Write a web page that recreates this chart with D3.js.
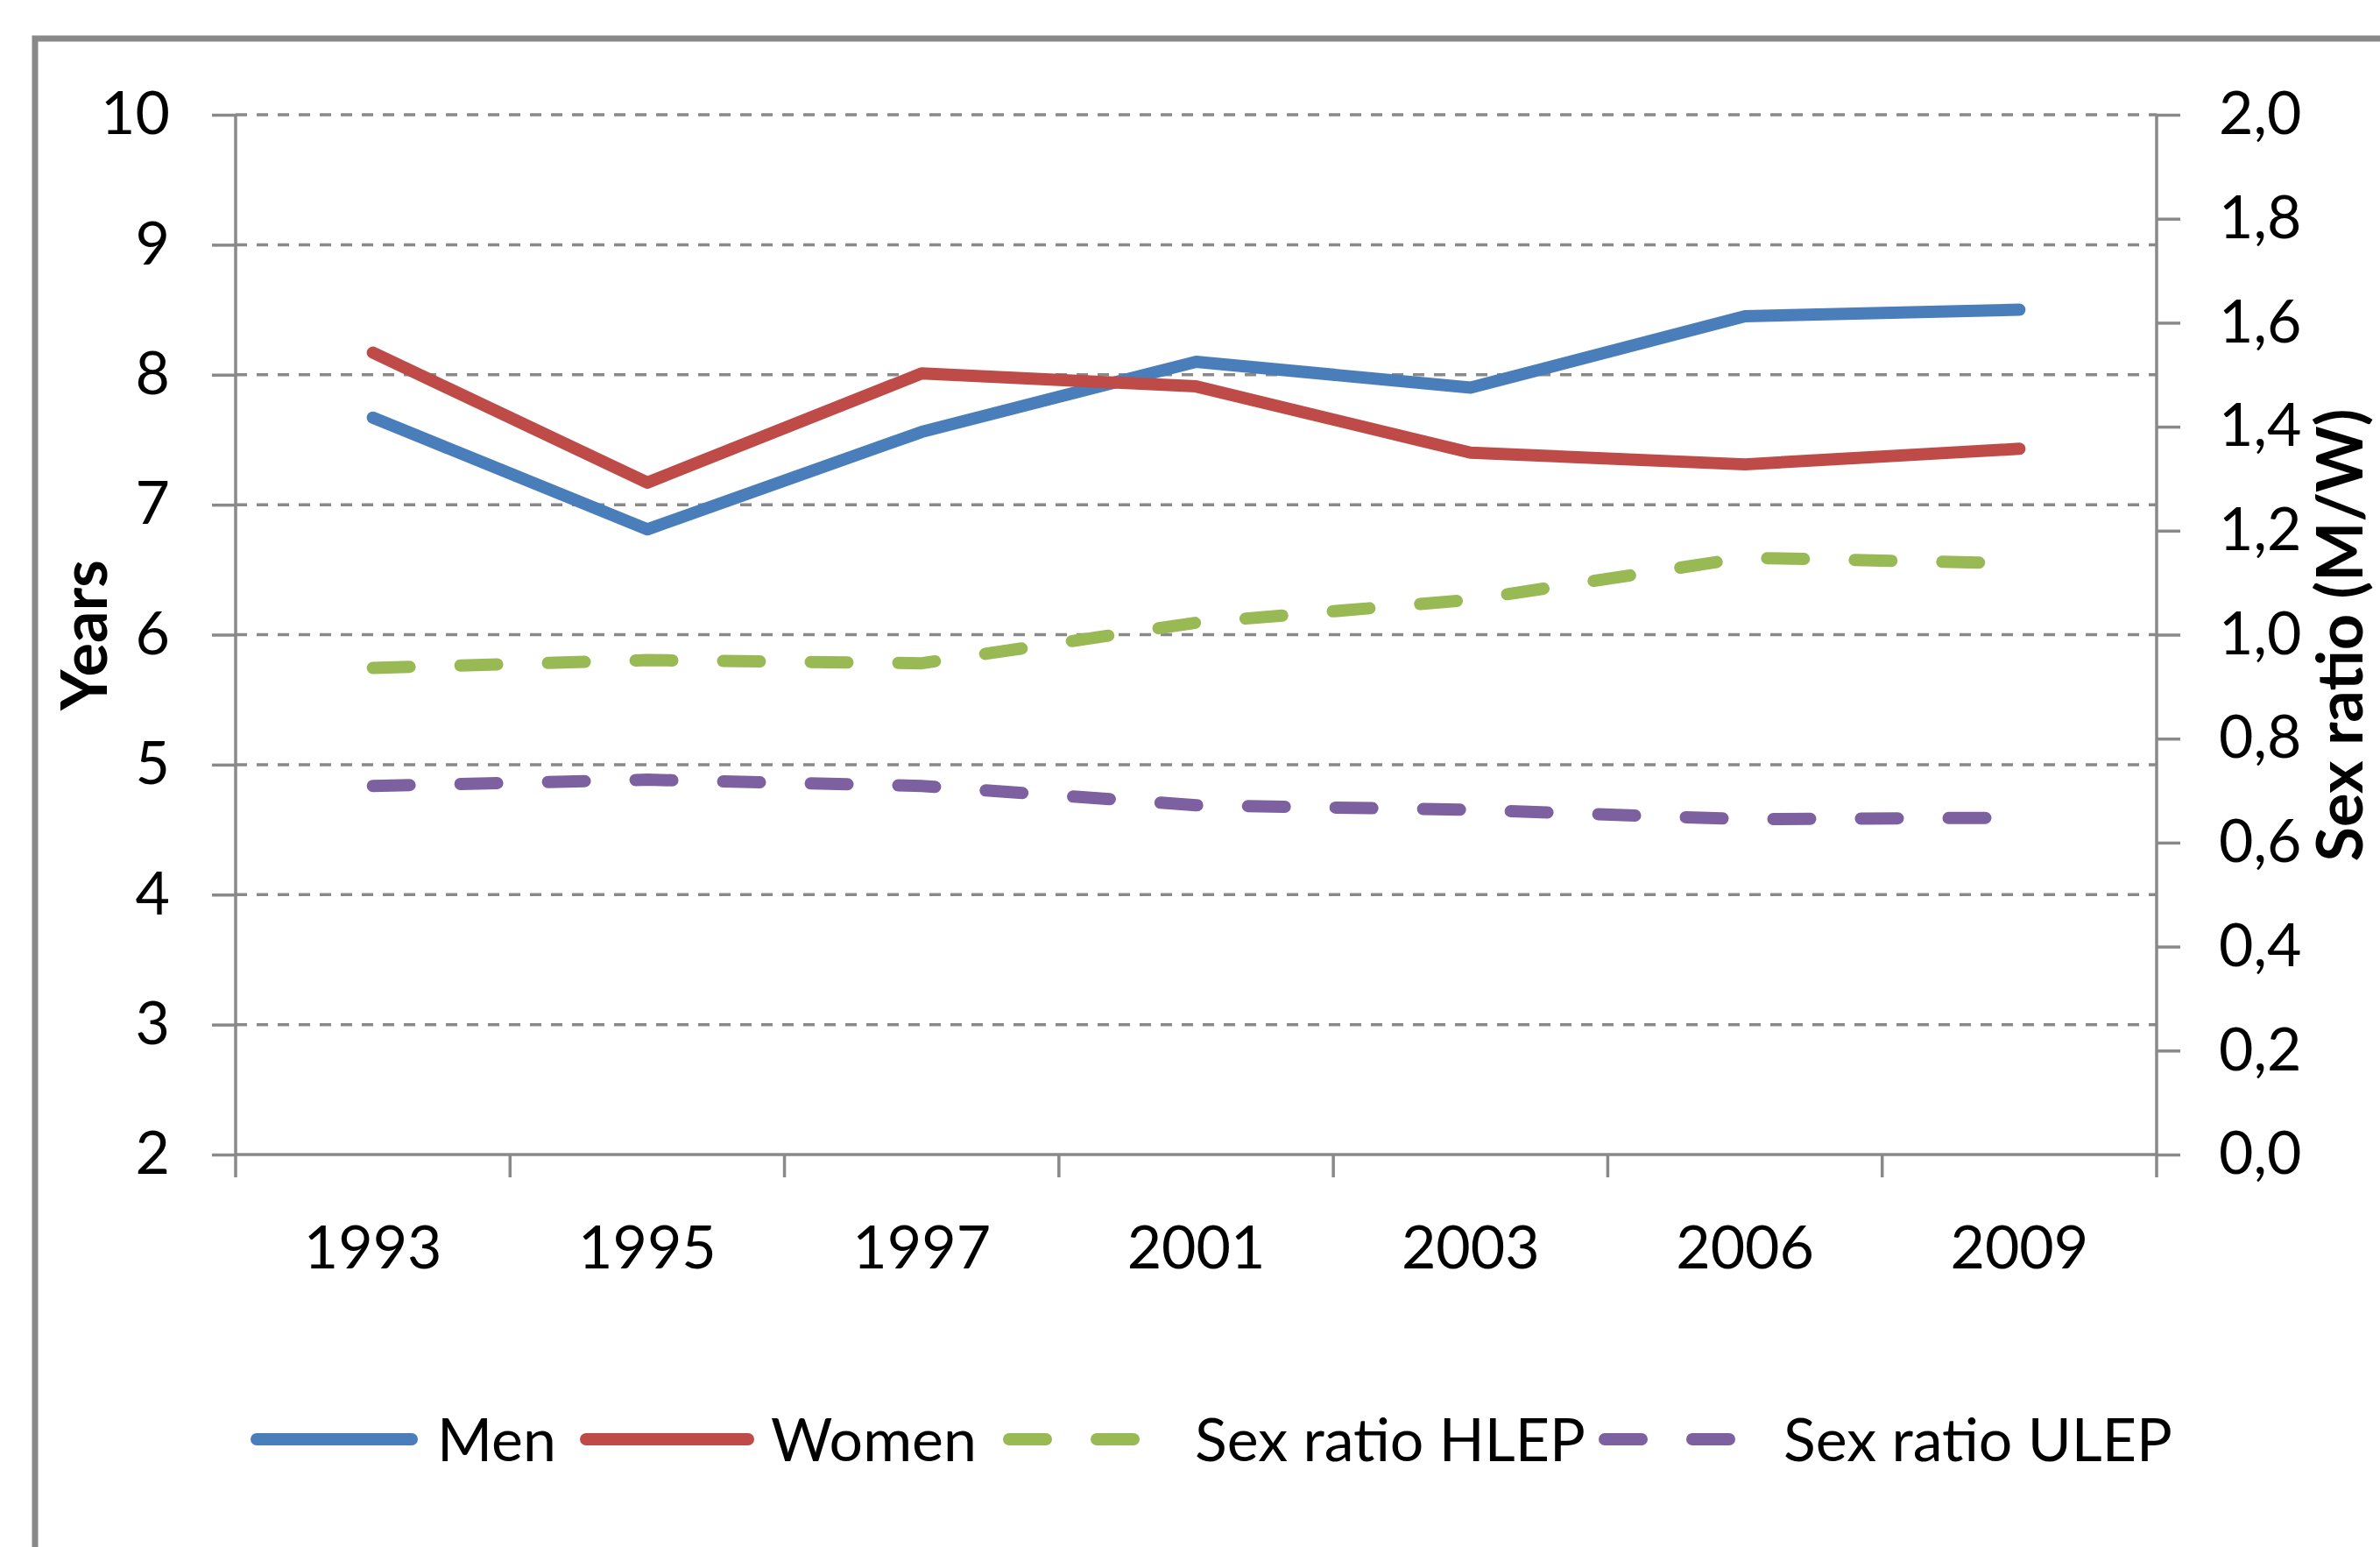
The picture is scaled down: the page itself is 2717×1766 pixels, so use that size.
<!DOCTYPE html>
<html>
<head>
<meta charset="utf-8">
<script src="https://cdn.jsdelivr.net/npm/d3@7"></script>
<style>
  html, body { margin: 0; padding: 0; background: #fff; overflow: hidden; }
  svg { display: block; }
  text { font-family: Lato, "Open Sans", sans-serif; fill: #000; }
</style>
</head>
<body>
<svg id="chart" width="2717" height="1766"></svg>
<script>
// ---- data ----
const years = ["1993", "1995", "1997", "2001", "2003", "2006", "2009"];
const men = [7.67, 6.81, 7.56, 8.10, 7.90, 8.45, 8.50];
const women = [8.17, 7.17, 8.01, 7.91, 7.40, 7.31, 7.43];
const ratioHLEP = [0.936, 0.951, 0.945, 1.023, 1.067, 1.148, 1.137];
const ratioULEP = [0.709, 0.721, 0.709, 0.672, 0.663, 0.645, 0.648];
const leftTicks = [2, 3, 4, 5, 6, 7, 8, 9, 10];
const rightTicks = [0, 0.2, 0.4, 0.6, 0.8, 1.0, 1.2, 1.4, 1.6, 1.8, 2.0];
const seriesNames = ["Men", "Women", "Sex ratio HLEP", "Sex ratio ULEP"];

// ---- layout ----
const W = 2717, H = 1766;
const pLeft = 269, pRight = 2462, pTop = 131, pBottom = 1318;
const gray = "#898989";
const colors = ["#4a7ebb", "#be4b48", "#98b954", "#7d60a0"];

const svg = d3.select("#chart");

// outer frame (cropped at right and bottom)
svg.append("rect")
  .attr("x", 40).attr("y", 44)
  .attr("width", W + 100).attr("height", H + 100)
  .attr("fill", "none").attr("stroke", gray).attr("stroke-width", 7);

const x = d3.scaleBand().domain(years).range([pLeft, pRight]).padding(0);
const yL = d3.scaleLinear().domain([2, 10]).range([pBottom, pTop]);
const yR = d3.scaleLinear().domain([0, 2]).range([pBottom, pTop]);

// gridlines
svg.append("g").selectAll("line")
  .data(leftTicks.filter(d => d !== 2))
  .join("line")
  .attr("x1", pLeft).attr("x2", pRight)
  .attr("y1", d => yL(d)).attr("y2", d => yL(d))
  .attr("stroke", gray).attr("stroke-width", 3.5)
  .attr("stroke-dasharray", "13,11");

// left axis
const axL = svg.append("g").attr("transform", `translate(${pLeft},0)`)
  .call(d3.axisLeft(yL).tickValues(leftTicks).tickSize(27).tickPadding(48).tickFormat(d3.format("d")));
// right axis
const axR = svg.append("g").attr("transform", `translate(${pRight},0)`)
  .call(d3.axisRight(yR).tickValues(rightTicks).tickSize(27).tickPadding(44)
    .tickFormat(d => d3.format(".1f")(d).replace(".", ",")));
// bottom axis
const axB = svg.append("g").attr("transform", `translate(0,${pBottom})`)
  .call(d3.axisBottom(x).tickSize(0).tickPadding(82));

[axL, axR, axB].forEach(ax => {
  ax.select(".domain").attr("stroke", gray).attr("stroke-width", 3.5);
  ax.selectAll(".tick line").attr("stroke", gray).attr("stroke-width", 3.5);
  ax.selectAll(".tick text").attr("font-size", 68).attr("font-family", "Lato, sans-serif").attr("fill", "#000");
});
axB.select(".domain").attr("d", `M${pLeft},0H${pRight}`);
axL.select(".domain").attr("d", `M0,${pBottom}V${pTop}`);
axR.select(".domain").attr("d", `M0,${pBottom}V${pTop}`);

// category boundary ticks on x axis
const bounds = years.map(d => x(d)).concat([pRight]);
svg.append("g").selectAll("line").data(bounds).join("line")
  .attr("x1", d => d).attr("x2", d => d)
  .attr("y1", pBottom).attr("y2", pBottom + 26)
  .attr("stroke", gray).attr("stroke-width", 3.5);

// axis titles
svg.append("text")
  .attr("transform", "translate(122,725) rotate(-90)")
  .attr("text-anchor", "middle")
  .attr("font-size", 72).attr("font-weight", "bold")
  .text("Years");
svg.append("text")
  .attr("transform", "translate(2697,725) rotate(-90)")
  .attr("text-anchor", "middle")
  .attr("font-size", 72).attr("font-weight", "bold")
  .text("Sex ratio (M/W)");

// lines
const cx = d => x(d) + x.bandwidth() / 2;
const lineL = d3.line().x((v, i) => cx(years[i])).y(v => yL(v));
const lineR = d3.line().x((v, i) => cx(years[i])).y(v => yR(v));

const series = [
  { values: men, gen: lineL, dash: null },
  { values: women, gen: lineL, dash: null },
  { values: ratioHLEP, gen: lineR, dash: "42,58" },
  { values: ratioULEP, gen: lineR, dash: "42,58" }
];

svg.append("g").selectAll("path").data(series).join("path")
  .attr("d", d => d.gen(d.values))
  .attr("fill", "none")
  .attr("stroke", (d, i) => colors[i])
  .attr("stroke-width", 14)
  .attr("stroke-linejoin", "round")
  .attr("stroke-linecap", "round")
  .attr("stroke-dasharray", d => d.dash);

// legend
const legY = 1643;
const legItems = [
  { sx1: 293, sx2: 470, tx: 499, dash: null },
  { sx1: 669, sx2: 854, tx: 880, dash: null },
  { sx1: 1152, sx2: 1294, tx: 1364, dash: "42,58" },
  { sx1: 1832, sx2: 1974, tx: 2036, dash: "42,58" }
];
const leg = svg.append("g");
legItems.forEach((it, i) => {
  leg.append("line")
    .attr("x1", it.sx1).attr("x2", it.sx2)
    .attr("y1", legY).attr("y2", legY)
    .attr("stroke", colors[i]).attr("stroke-width", 14)
    .attr("stroke-linecap", "round")
    .attr("stroke-dasharray", it.dash);
  leg.append("text")
    .attr("x", it.tx).attr("y", legY + 25)
    .attr("font-size", 68)
    .text(seriesNames[i]);
});
</script>
</body>
</html>
